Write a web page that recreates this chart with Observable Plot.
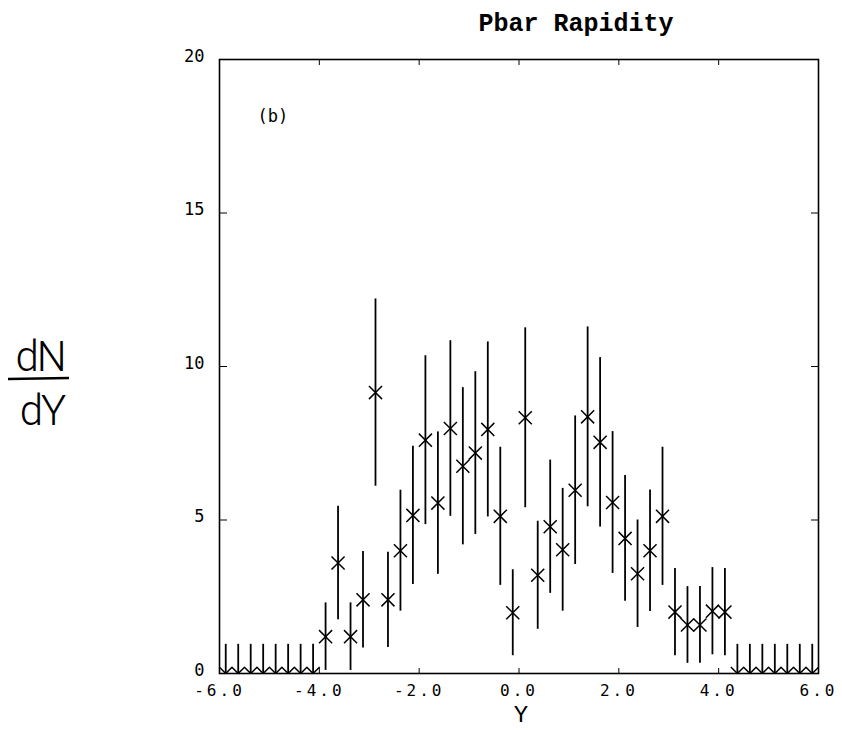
<!DOCTYPE html>
<html><head><meta charset="utf-8">
<script src="https://cdn.jsdelivr.net/npm/d3@7"></script>
<script src="https://cdn.jsdelivr.net/npm/@observablehq/plot@0.6"></script>
<style>
body{margin:0;background:#fff;}
#wrap{position:relative;width:842px;height:730px;overflow:hidden;}
#wrap svg.overlay{position:absolute;left:0;top:0;pointer-events:none}
[aria-label="x-axis tick label"] text{letter-spacing:3px}
</style></head><body><div id="wrap"></div>
<script>
const rapidity = [-5.875,-5.625,-5.375,-5.125,-4.875,-4.625,-4.375,-4.125,
  -3.875,-3.625,-3.375,-3.125,-2.875,-2.625,-2.375,-2.125,-1.875,-1.625,-1.375,-1.125,-0.875,-0.625,-0.375,-0.125,
  0.125,0.375,0.625,0.875,1.125,1.375,1.625,1.875,2.125,2.375,2.625,2.875,3.125,3.375,3.625,3.875,4.125,
  4.375,4.625,4.875,5.125,5.375,5.625,5.875];
const dNdY = [0,0,0,0,0,0,0,0,
  1.2,3.6,1.2,2.4,9.15,2.4,4.0,5.15,7.6,5.55,7.98,6.75,7.18,7.95,5.12,1.98,
  8.33,3.2,4.78,4.03,5.97,8.36,7.53,5.57,4.4,3.25,4.0,5.12,2.0,1.58,1.58,2.03,2.0,
  0,0,0,0,0,0,0];
const dNdYErr = [0.95,0.95,0.95,0.95,0.95,0.95,0.95,0.95,
  1.1,1.85,1.1,1.57,3.05,1.55,1.97,2.25,2.75,2.32,2.86,2.56,2.65,2.85,2.25,1.4,
  2.93,1.76,2.17,2.0,2.42,2.93,2.76,2.31,2.05,1.75,1.98,2.25,1.42,1.25,1.25,1.42,1.42,
  0.95,0.95,0.95,0.95,0.95,0.95,0.95];
const xTicks = [-6,-4,-2,0,2,4,6];
const xTickLabels = ["-6.0","-4.0","-2.0","0.0","2.0","4.0","6.0"];
const yTicks = [0,5,10,15,20];
const yTickLabels = ["0","5","10","15","20"];
const panelLabel = "(b)";
const titleText = "Pbar Rapidity";
const xLabel = "Y";

const data = rapidity.map((x, i) => ({
  x, v: dNdY[i], lo: Math.max(0, dNdY[i] - dNdYErr[i]), hi: dNdY[i] + dNdYErr[i]
}));

const chart = Plot.plot({
  width: 842, height: 730,
  marginLeft: 219, marginRight: 24, marginTop: 59, marginBottom: 57,
  style: {fontFamily: "'DejaVu Sans Mono', monospace", fontSize: "16px", background: "white", color: "black"},
  x: {domain: [-6, 6], label: null},
  y: {domain: [0, 20], label: null},
  marks: [
    Plot.ruleX(data, {x: "x", y1: "lo", y2: "hi", strokeWidth: 1.8, clip: "frame"}),
    Plot.dot(data, {x: "x", y: "v", symbol: "times", r: 6, stroke: "black", strokeWidth: 1.5, clip: "frame"}),
    Plot.frame({strokeWidth: 1.6}),
    Plot.axisX({ticks: xTicks, tickFormat: d => xTickLabels[xTicks.indexOf(d)], tickSize: 0, tickPadding: 11, fontSize: 16, label: null}),
    Plot.axisX({ticks: xTicks, anchor: "bottom", tickSize: 5, dy: -5, fill: "none", label: null}),
    Plot.axisX({ticks: xTicks, anchor: "top", tickSize: 5, dy: 5, fill: "none", label: null}),
    Plot.axisY({ticks: yTicks, tickFormat: d => yTickLabels[yTicks.indexOf(d)], tickSize: 0, tickPadding: 15, dy: -3, fontSize: 17, label: null}),
    Plot.axisY({ticks: yTicks, anchor: "left", tickSize: 8, dx: 8, fill: "none", label: null}),
    Plot.axisY({ticks: yTicks, anchor: "right", tickSize: 8, dx: -8, fill: "none", label: null}),
    Plot.text([panelLabel], {text: d => d, frameAnchor: "top-left", dx: 38, dy: 50, textAnchor: "start", fontSize: 17})
  ]
});
const wrap = document.getElementById("wrap");
wrap.appendChild(chart);

const ns = "http://www.w3.org/2000/svg";
const ov = document.createElementNS(ns, "svg");
ov.setAttribute("class", "overlay");
ov.setAttribute("width", 842); ov.setAttribute("height", 730);
function addText(str, x, y, font, size, extra) {
  const t = document.createElementNS(ns, "text");
  t.setAttribute("x", x); t.setAttribute("y", y);
  t.setAttribute("text-anchor", "middle");
  t.setAttribute("font-family", font);
  t.setAttribute("font-size", size);
  if (extra) for (const k in extra) t.setAttribute(k, extra[k]);
  t.textContent = str;
  ov.appendChild(t);
}
addText(titleText, 576, 31, "'Liberation Mono', monospace", 25, {"font-weight": "bold"});
addText("dN", 40, 371, "Roboto, 'DejaVu Sans', sans-serif", 42, {"font-weight": "300", "letter-spacing": "-2"});
addText("dY", 42, 425, "Roboto, 'DejaVu Sans', sans-serif", 42, {"font-weight": "300", "letter-spacing": "-2"});
const ln = document.createElementNS(ns, "line");
ln.setAttribute("x1", 8); ln.setAttribute("x2", 69); ln.setAttribute("y1", 379); ln.setAttribute("y2", 378);
ln.setAttribute("stroke", "black"); ln.setAttribute("stroke-width", 2.5);
ov.appendChild(ln);
addText(xLabel, 521, 722, "'Liberation Mono', monospace", 24);
wrap.appendChild(ov);
</script></body></html>
